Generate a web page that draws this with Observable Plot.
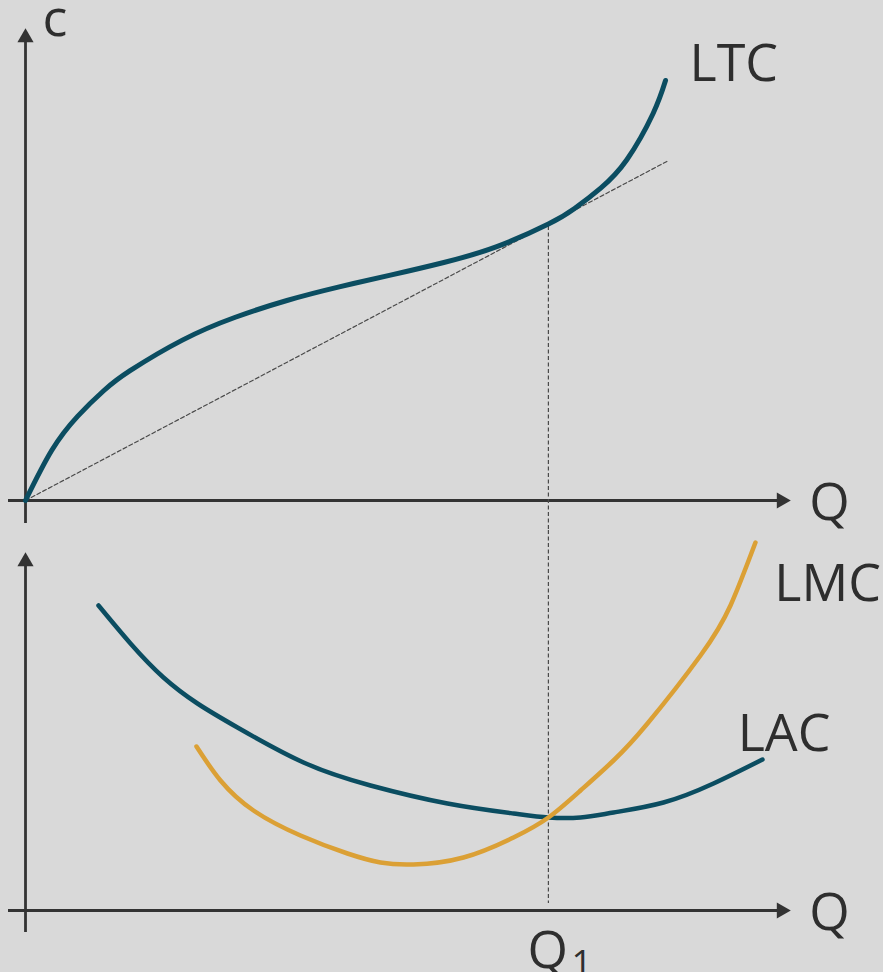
<!DOCTYPE html>
<html>
<head>
<meta charset="utf-8">
<script src="https://cdn.jsdelivr.net/npm/d3@7"></script>
<script src="https://cdn.jsdelivr.net/npm/@observablehq/plot@0.6"></script>
<style>
  html, body { margin: 0; padding: 0; background: #d9d9d9; }
  #chart svg { display: block; overflow: visible; }
</style>
</head>
<body>
<div id="chart"></div>
<script>
// ---- data (Q = quantity, C = cost) ----
const ltcQ = [0, 5, 10, 15, 20, 30, 40, 50, 60, 70, 80, 90, 100, 105, 110, 115, 120, 122.4];
const ltcC = [0, 12.5, 21.1, 27.5, 32.45, 40.1, 45.75, 50.0, 53.4, 56.4, 59.5, 63.4, 69.1, 73.0, 78.1, 85.2, 96.7, 105.0];

const rayQ = [0, 123];
const rayC = [0, 85.0];

const lacQ = [13.96, 20.08, 26.39, 32.89, 40.54, 53.17, 65.98, 80.7, 93.33, 100, 106.14, 112.45, 122.01, 131.57, 140.94];
const lacC = [76.25, 66.75, 58.25, 51.75, 45.75, 37, 31.25, 26.75, 24.25, 23.25, 23.25, 24.5, 27, 31.75, 37.75];

const lmcQ = [32.7, 37.29, 43.6, 52.59, 61.58, 67.89, 74.2, 83.76, 93.33, 100, 106.14, 112.45, 118.95, 129.09, 134.82, 139.6];
const lmcC = [41, 32.5, 25, 18.75, 14.25, 12, 11.5, 13.25, 18.25, 23.25, 30, 37.5, 46.75, 63.75, 76.25, 92];

const q1 = 100;
const ltcAtQ1 = 68.5;

const topLabels = [
  {text: "c",   q: 3.25,  c: 120.4},
  {text: "LTC", q: 127.0, c: 109.15},
  {text: "Q",   q: 149.9, c: -0.6}
];
const bottomLabels = [
  {text: "LMC", q: 143.2, c: 81.65},
  {text: "LAC", q: 136.2, c: 44.15},
  {text: "Q",   q: 149.9, c: -0.6},
  {text: "Q",   q: 96.0,  c: -10.1}
];
const subLabels = [{text: "1", q: 104.4, c: -13.55}];

// ---- styles ----
const TEAL = "#0b4d61";
const ORANGE = "#dba035";
const AXIS = "#333333";
const DASH = "#4a4a4a";
const FONT = "'Open Sans', sans-serif";

const zip = (xs, ys) => xs.map((x, i) => ({q: x, c: ys[i]}));

const W = 883;
const xDomain = [0, 146.3];
const common = {
  width: W,
  marginLeft: 25,
  marginRight: 93,
  x: {domain: xDomain, axis: null},
  style: {background: "transparent", overflow: "visible"}
};

function axes(yTop, yBottomExt) {
  return [
    Plot.ruleY([0], {x1: -3.25, x2: xDomain[1] - 1, stroke: AXIS, strokeWidth: 2.8}),
    Plot.ruleX([0], {y1: yBottomExt, y2: yTop - 1, stroke: AXIS, strokeWidth: 2.8}),
    Plot.dot([{q: 0, c: yTop}], {x: "q", y: "c", symbol: "triangle", r: 6, fill: AXIS, stroke: null, dy: 9}),
    Plot.dot([{q: xDomain[1], c: 0}], {x: "q", y: "c", symbol: "triangle", r: 6, fill: AXIS, stroke: null, rotate: 90, dx: -9})
  ];
}

const textOpts = {x: "q", y: "c", text: "text", textAnchor: "start", lineAnchor: "middle",
  fontSize: 52, fill: "#2e2e2e", fontFamily: FONT};
const dashOpts = {stroke: DASH, strokeWidth: 1.2, strokeDasharray: "4,2.5"};

// ---- top panel ----
const topY = [0, 118];
const topPanel = Plot.plot({
  ...common,
  height: 530,
  marginTop: 28,
  marginBottom: 30,
  y: {domain: topY, axis: null},
  marks: [
    ...axes(topY[1], -5.75),
    Plot.line(zip(rayQ, rayC), {x: "q", y: "c", ...dashOpts}),
    Plot.ruleX([q1], {y1: ltcAtQ1, y2: -7.5, ...dashOpts}),
    Plot.line(zip(ltcQ, ltcC), {x: "q", y: "c", stroke: TEAL, strokeWidth: 5, curve: "natural"}),
    Plot.text(topLabels, textOpts)
  ]
});

// ---- bottom panel ----
const botY = [0, 89.5];
const bottomPanel = Plot.plot({
  ...common,
  height: 442,
  marginTop: 22,
  marginBottom: 62,
  y: {domain: botY, axis: null},
  marks: [
    ...axes(botY[1], -5.5),
    Plot.ruleX([q1], {y1: 95, y2: 1.75, ...dashOpts}),
    Plot.line(zip(lacQ, lacC), {x: "q", y: "c", stroke: TEAL, strokeWidth: 4.5, curve: "natural"}),
    Plot.line(zip(lmcQ, lmcC), {x: "q", y: "c", stroke: ORANGE, strokeWidth: 4.5, curve: "natural"}),
    Plot.text(bottomLabels, textOpts),
    Plot.text(subLabels, {...textOpts, fontSize: 36})
  ]
});

document.getElementById("chart").append(topPanel, bottomPanel);
</script>
</body>
</html>
